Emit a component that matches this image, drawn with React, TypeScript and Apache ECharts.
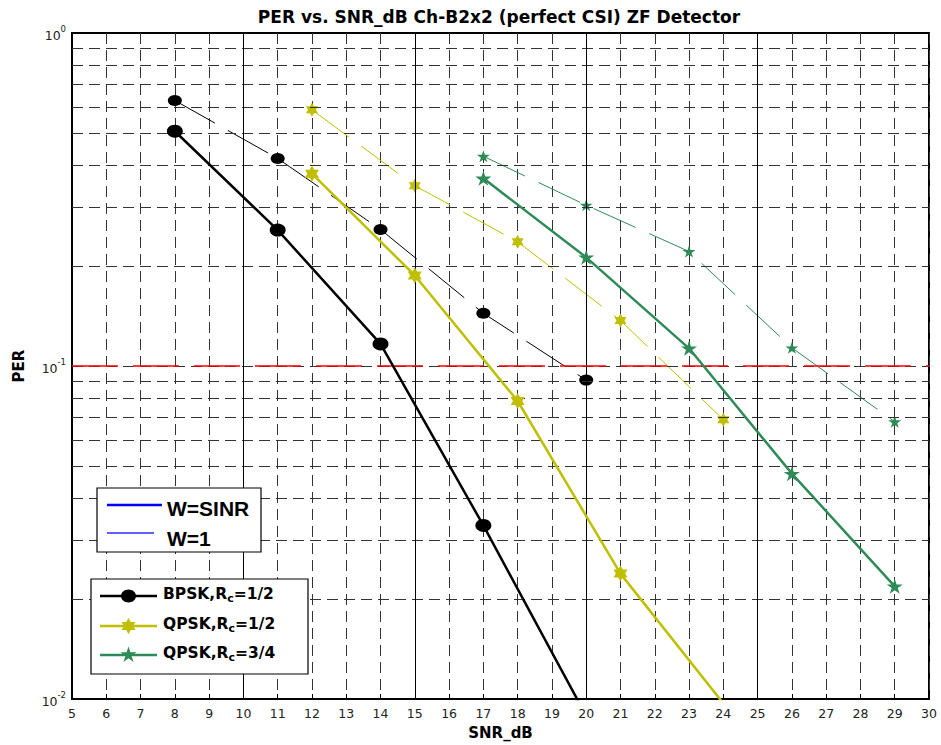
import React, { useEffect, useRef } from "react";
import * as echarts from "echarts";

// ---------- data ----------
const TITLE = "PER vs. SNR_dB Ch-B2x2 (perfect CSI) ZF Detector";
const X_NAME = "SNR_dB";
const Y_NAME = "PER";
const X_MIN = 5;
const X_MAX = 30;
const Y_MIN = 0.01;
const Y_MAX = 1;
const SOLID_X_LINES = [10, 15, 20, 25];
const DASHED_Y = [0.02, 0.03, 0.04, 0.05, 0.06, 0.07, 0.08, 0.09, 0.1, 0.2, 0.3, 0.4, 0.5, 0.6, 0.7, 0.8, 0.9];
const TARGET_PER = 0.1;

const BPSK_12_SINR = [[8, 0.507], [11, 0.256], [14, 0.1165], [17, 0.0332], [20, 0.0089]];
const BPSK_12_W1 = [[8, 0.627], [11, 0.42], [14, 0.257], [17, 0.144], [20, 0.0907]];
const QPSK_12_SINR = [[12, 0.378], [15, 0.187], [18, 0.0785], [21, 0.0238], [24, 0.0097]];
const QPSK_12_W1 = [[12, 0.588], [15, 0.348], [18, 0.236], [21, 0.137], [24, 0.069]];
const QPSK_34_SINR = [[17, 0.366], [20, 0.212], [23, 0.113], [26, 0.0475], [29, 0.0218]];
const QPSK_34_W1 = [[17, 0.4265], [20, 0.304], [23, 0.2207], [26, 0.1134], [29, 0.068]];

const LEGEND_W = ["W=SINR", "W=1"];
const LEGEND_MOD = [
  { pre: "BPSK,R", sub: "c", post: "=1/2" },
  { pre: "QPSK,R", sub: "c", post: "=1/2" },
  { pre: "QPSK,R", sub: "c", post: "=3/4" },
];

// ---------- styles ----------
const BLACK = "#000000";
const YELLOW = "#bfbf00";
const GREEN = "#2e8b57";
const BLUE = "#0000ff";
const GRID_COLOR = "#333333";
const GRID_DASH = [11, 6];
const W1_DASH = [46, 15];

function starPoints(n: number, R: number, r: number, cx: number, cy: number) {
  const pts: number[][] = [];
  for (let i = 0; i < 2 * n; i++) {
    const a = -Math.PI / 2 + (i * Math.PI) / n;
    const rad = i % 2 === 0 ? R : r;
    pts.push([cx + rad * Math.cos(a), cy + rad * Math.sin(a)]);
  }
  return pts;
}
function starPath(n: number, inner: number) {
  const pts = starPoints(n, 10, 10 * inner, 0, 0);
  return "path://M" + pts.map((p) => p[0].toFixed(3) + "," + p[1].toFixed(3)).join("L") + "Z";
}
const HEXAGRAM = starPath(6, 1 / Math.sqrt(3));
const PENTAGRAM = starPath(5, 0.382);

export default function App() {
  const ref = useRef<HTMLDivElement>(null);
  useEffect(() => {
    document.body.style.margin = "0";
    if (!ref.current) return;
    const chart = echarts.init(ref.current, undefined, { renderer: "svg" });

    const thick = (name: string, data: number[][], color: string, symbol: string, size: any) => ({
      name,
      type: "line",
      data,
      z: 5,
      symbol,
      symbolSize: size,
      clip: true,
      lineStyle: { color, width: 2.5 },
      itemStyle: { color },
    });
    const thin = (name: string, data: number[][], color: string, symbol: string, size: any) => ({
      name,
      type: "line",
      data,
      z: 4,
      symbol,
      symbolSize: size,
      clip: true,
      lineStyle: { color, width: 1, type: W1_DASH },
      itemStyle: { color },
    });

    const lgFont = "DejaVu Sans";
    const modRich = {
      t: { fontSize: 15.5, fontWeight: "bold", fontFamily: lgFont, fill: "#000", lineHeight: 20, verticalAlign: "middle" },
      s: { fontSize: 11, fontWeight: "bold", fontFamily: lgFont, fill: "#000", lineHeight: 2, verticalAlign: "bottom" },
    };
    const modColors = [BLACK, YELLOW, GREEN];
    const modY = [596, 626, 655];
    const modMarkers = (i: number, cx: number, cy: number) => {
      if (i === 0) return { type: "ellipse", shape: { cx, cy, rx: 7.5, ry: 6.5 }, style: { fill: BLACK } };
      if (i === 1)
        return { type: "polygon", shape: { points: starPoints(6, 8, 8 / Math.sqrt(3), cx, cy) }, style: { fill: YELLOW } };
      return { type: "polygon", shape: { points: starPoints(5, 8.5, 8.5 * 0.382, cx, cy) }, style: { fill: GREEN } };
    };

    const graphic: any[] = [
      {
        type: "text",
        style: {
          text: TITLE,
          x: 499,
          y: 17,
          align: "center",
          verticalAlign: "middle",
          fontSize: 17,
          fontWeight: "bold",
          fontFamily: lgFont,
          fill: "#000",
        },
        z: 20,
      },
      // legend box 1
      { type: "rect", shape: { x: 97, y: 488, width: 164, height: 64 }, style: { fill: "#fff", stroke: "#000", lineWidth: 1.2 }, z: 20 },
      { type: "line", shape: { x1: 107, y1: 505, x2: 162, y2: 505 }, style: { stroke: BLUE, lineWidth: 2.5 }, z: 21 },
      { type: "line", shape: { x1: 107, y1: 533, x2: 154, y2: 533 }, style: { stroke: "#2a2aff", lineWidth: 1.3 }, z: 21 },
      {
        type: "text",
        style: { text: LEGEND_W[0], x: 167, y: 508, verticalAlign: "middle", fontSize: 21, fontWeight: "bold", fontFamily: "Liberation Sans", fill: "#000" },
        z: 21,
      },
      {
        type: "text",
        style: { text: LEGEND_W[1], x: 167, y: 538, verticalAlign: "middle", fontSize: 21, fontWeight: "bold", fontFamily: "Liberation Sans", fill: "#000" },
        z: 21,
      },
      // legend box 2
      { type: "rect", shape: { x: 91, y: 579, width: 217, height: 95 }, style: { fill: "#fff", stroke: "#000", lineWidth: 1.2 }, z: 20 },
    ];
    LEGEND_MOD.forEach((m, i) => {
      const y = modY[i];
      graphic.push({ type: "line", shape: { x1: 100, y1: y, x2: 157, y2: y }, style: { stroke: modColors[i], lineWidth: 2.5 }, z: 21 });
      const mk: any = modMarkers(i, 128.5, y);
      mk.z = 22;
      graphic.push(mk);
      graphic.push({
        type: "text",
        style: {
          text: `{t|${m.pre}}{s|${m.sub}}{t|${m.post}}`,
          rich: modRich,
          x: 163,
          y: y - 2,
          verticalAlign: "middle",
        },
        z: 21,
      });
    });

    const option: any = {
      animation: false,
      backgroundColor: "#ffffff",
      grid: { left: 72, right: 12, top: 33, bottom: 44, show: true, borderColor: "#000", borderWidth: 2, backgroundColor: "transparent" },
      xAxis: {
        type: "value",
        min: X_MIN,
        max: X_MAX,
        interval: 1,
        name: X_NAME,
        nameLocation: "middle",
        nameGap: 26,
        nameTextStyle: { fontSize: 15, fontWeight: "bold", fontFamily: lgFont, color: "#000" },
        axisLine: { show: true, lineStyle: { color: "#000", width: 2 } },
        axisTick: { show: true, inside: true, length: 5, lineStyle: { color: "#000" } },
        axisLabel: { fontSize: 12.5, fontFamily: lgFont, color: "#222", margin: 8 },
        splitLine: { show: true, lineStyle: { color: GRID_COLOR, width: 1, type: GRID_DASH } },
      },
      yAxis: {
        type: "log",
        logBase: 10,
        min: Y_MIN,
        max: Y_MAX,
        interval: 1,
        splitNumber: 2,
        name: Y_NAME,
        nameLocation: "middle",
        nameGap: 46,
        nameTextStyle: { fontSize: 15, fontWeight: "bold", fontFamily: lgFont, color: "#000" },
        axisLine: { show: true, lineStyle: { color: "#000", width: 2 } },
        axisTick: { show: false },
        axisLabel: {
          margin: 6,
          formatter: (v: number) => `{b|10}{s|${Math.round(Math.log10(v))}}`,
          rich: {
            b: { fontSize: 12.5, fontFamily: lgFont, color: "#222", lineHeight: 18, verticalAlign: "bottom" },
            s: { fontSize: 8.5, fontFamily: lgFont, color: "#222", lineHeight: 8, verticalAlign: "top" },
          },
        },
        splitLine: { show: false },
      },
      series: [
        {
          type: "line",
          data: [],
          silent: true,
          z: 1,
          markLine: {
            silent: true,
            symbol: "none",
            label: { show: false },
            animation: false,
            lineStyle: { color: GRID_COLOR, width: 1, type: GRID_DASH },
            data: [
              ...DASHED_Y.map((v) => ({ yAxis: v })),
              ...SOLID_X_LINES.map((v) => ({ xAxis: v, lineStyle: { color: "#000", width: 1, type: "solid" } })),
            ],
          },
        },
        {
          type: "line",
          data: [],
          silent: true,
          z: 3,
          markLine: {
            silent: true,
            symbol: "none",
            label: { show: false },
            animation: false,
            lineStyle: { color: "#ff0000", width: 1.5, type: [46, 15] },
            data: [{ yAxis: TARGET_PER }],
          },
        },
        thick("BPSK SINR", BPSK_12_SINR, BLACK, "circle", [16, 13]),
        thin("BPSK W=1", BPSK_12_W1, BLACK, "circle", [14, 11]),
        thick("QPSK12 SINR", QPSK_12_SINR, YELLOW, HEXAGRAM, [14, 16]),
        thin("QPSK12 W=1", QPSK_12_W1, YELLOW, HEXAGRAM, [12, 14]),
        thick("QPSK34 SINR", QPSK_34_SINR, GREEN, PENTAGRAM, [16, 15]),
        thin("QPSK34 W=1", QPSK_34_W1, GREEN, PENTAGRAM, [13, 12]),
      ],
      graphic,
    };
    chart.setOption(option);
    return () => chart.dispose();
  }, []);
  return <div ref={ref} style={{ width: 941, height: 745 }} />;
}
